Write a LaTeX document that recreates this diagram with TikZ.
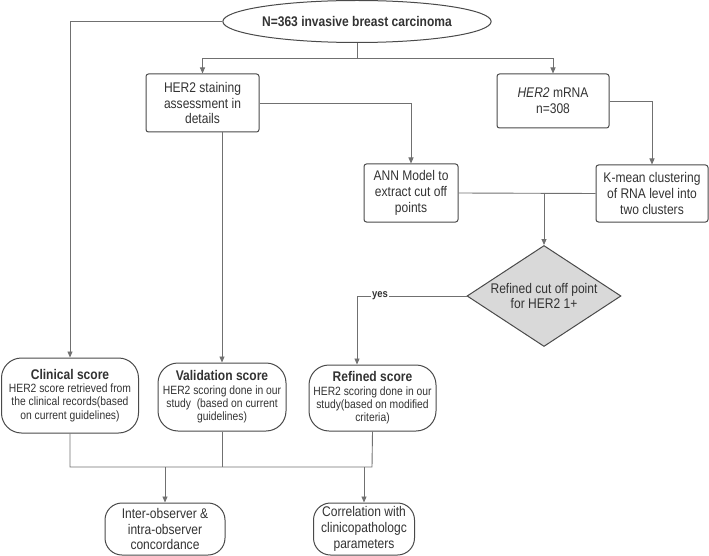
\documentclass[tikz,border=0pt]{standalone}
\usepackage{fontspec}
\setmainfont{Liberation Sans}[FakeStretch=0.86]
\usetikzlibrary{shapes.geometric,arrows.meta}
\definecolor{txt}{HTML}{333333}
\definecolor{ln}{HTML}{707070}
\definecolor{bd}{HTML}{4A4A4A}
\definecolor{dfill}{HTML}{D9D9D9}
\newcommand{\subf}{\fontsize{12}{13.3}\selectfont}
\newcommand{\ttlf}{\fontsize{14}{15}\selectfont\bfseries}
\begin{document}
\begin{tikzpicture}[x=1pt,y=-1pt,
  font=\fontsize{14}{15.7}\selectfont, text=txt,
  conn/.style={draw=ln, line width=0.9pt},
  arr/.style={conn, -{Triangle[length=6pt,width=5pt]}},
  box/.style={draw=bd, line width=1pt, rounded corners=2.5pt, align=center, inner sep=1pt, fill=white},
  pill/.style={draw=bd, line width=1pt, rounded corners=20pt, align=center, inner sep=1pt, fill=white}]
\useasboundingbox (0,0) rectangle (709,556);

\node[draw=bd, line width=1pt, ellipse, minimum width=228pt, minimum height=42pt, inner sep=0pt, fill=white] (top) at (357,21.5) {\bfseries N=363 invasive breast carcinoma};

\node[box, minimum width=113pt, minimum height=58pt] (stain) at (202.5,103) {HER2 staining\\assessment in\\details};
\node[box, minimum width=112pt, minimum height=54pt] (mrna) at (553,101) {\textit{HER2} mRNA\\n=308};
\node[box, minimum width=94pt, minimum height=58pt] (ann) at (411,193) {ANN Model to\\extract cut off\\points};
\node[box, minimum width=112pt, minimum height=57pt] (kmean) at (652,193.5) {K-mean clustering\\of RNA level into\\two clusters};
\node[draw=bd, line width=1pt, diamond, aspect=1.52, fill=dfill, minimum width=154pt, minimum height=101pt, inner sep=0pt, align=center] (dec) at (544,296) {Refined cut off point\\for HER2 1+};

\node[pill, minimum width=137pt, minimum height=75pt, font=\subf] (clin) at (70,395.5) {{\ttlf Clinical score}\\HER2 score retrieved from\\the clinical records(based\\on current guidelines)};
\node[pill, minimum width=128pt, minimum height=68pt, font=\subf] (valid) at (222,397) {{\ttlf Validation score}\\HER2 scoring done in our\\study\ \ (based on current\\guidelines)};
\node[pill, minimum width=127pt, minimum height=66pt, font=\subf] (refd) at (372.5,398) {{\ttlf Refined score}\\HER2 scoring done in our\\study(based on modified\\criteria)};

\node[pill, rounded corners=17pt, minimum width=120pt, minimum height=52pt] (inter) at (165,529) {Inter-observer \&\\intra-observer\\concordance};
\node[pill, rounded corners=17pt, minimum width=101pt, minimum height=52pt] (corr) at (364,529) {Correlation with\\clinicopathologc\\parameters};

\coordinate (j1) at (357,58);
\coordinate (j2) at (544,193);
\coordinate (yc) at (357,296);
\coordinate (b1) at (70,467);
\coordinate (b2) at (372,467);

\draw[arr] (top.west) -| (clin.north);
\draw[conn] (top.south) -- (j1);
\draw[arr] (j1) -| (stain.north);
\draw[arr] (j1) -| (mrna.north);
\draw[arr] (stain.east) -| (ann.north);
\draw[arr] (valid.north |- stain.south) -- (valid.north);
\draw[arr] (mrna.east) -| (kmean.north);
\draw[conn] (ann.east) -- (kmean.west);
\draw[arr] (j2) -- (dec.north);
\draw[arr] (dec.west) -- node[pos=0.79, fill=white, inner sep=1pt, font=\bfseries\fontsize{11}{12}\selectfont, text=txt]{yes} (yc) -- (yc |- refd.north);

\draw[conn] (clin.south) -- (b1) -- (b2) -- (refd.south);
\draw[conn] (valid.south) -- (valid.south |- b1);
\draw[arr] (inter.north |- b1) -- (inter.north);
\draw[arr] (corr.north |- b1) -- (corr.north);
\end{tikzpicture}
\end{document}
